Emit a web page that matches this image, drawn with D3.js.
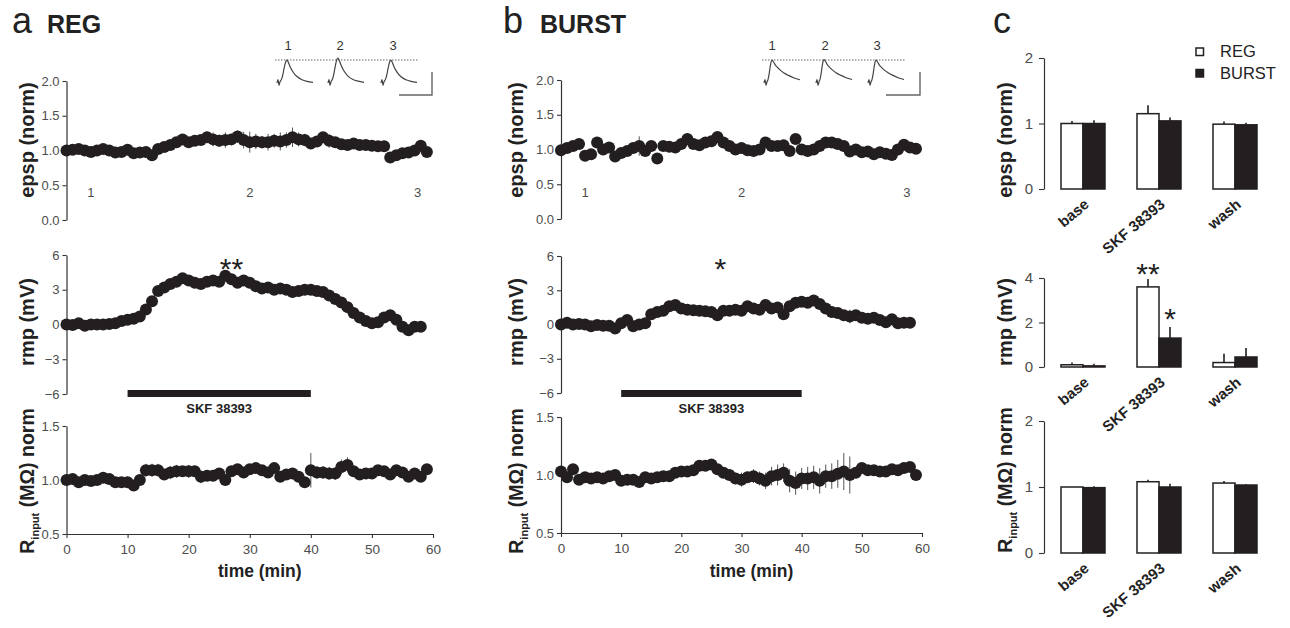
<!DOCTYPE html>
<html><head><meta charset="utf-8">
<script src="https://cdn.jsdelivr.net/npm/d3@7"></script>
<style>
body{margin:0;background:#fff;}
svg text{font-family:"Liberation Sans",Arial,Helvetica,sans-serif;}
</style></head><body>
<svg id="chart" width="1290" height="628"></svg>
<script>
// ---------------- DATA ----------------
const timeMin = [0,1,2,3,4,5,6,7,8,9,10,11,12,13,14,15,16,17,18,19,20,21,22,23,24,25,26,27,28,29,30,31,32,33,34,35,36,37,38,39,40,41,42,43,44,45,46,47,48,49,50,51,52,53,54,55,56,57,58,59];
const timeTicks = [0,10,20,30,40,50,60];

const epspReg = [1.00,1.01,1.02,1.00,0.98,1.00,1.02,1.00,0.97,0.98,1.01,0.96,0.97,0.98,0.93,1.02,1.05,1.08,1.12,1.16,1.12,1.14,1.15,1.19,1.16,1.14,1.15,1.16,1.20,1.15,1.12,1.13,1.12,1.12,1.14,1.13,1.15,1.19,1.16,1.15,1.10,1.13,1.19,1.14,1.12,1.09,1.08,1.10,1.08,1.08,1.07,1.06,1.06,0.90,0.93,0.96,0.97,1.00,1.07,0.98];
const epspRegErr = [0.01,0.02,0.02,0.02,0.02,0.02,0.02,0.02,0.02,0.02,0.02,0.02,0.02,0.02,0.02,0.03,0.03,0.03,0.03,0.04,0.04,0.05,0.07,0.08,0.10,0.09,0.11,0.08,0.09,0.12,0.15,0.11,0.09,0.12,0.10,0.13,0.11,0.14,0.10,0.09,0.08,0.07,0.08,0.10,0.05,0.04,0.04,0.03,0.03,0.03,0.03,0.03,0.03,0.03,0.03,0.03,0.03,0.03,0.03,0.03];
const rmpReg = [0,-0.05,0.1,-0.1,0,0,0,0.05,0.1,0.3,0.4,0.5,0.7,1.3,2.0,2.9,3.2,3.5,3.7,4.0,3.8,3.6,3.5,3.7,3.8,3.7,4.2,3.9,3.6,3.8,3.6,3.3,3.1,3.2,3.0,3.1,3.0,2.8,2.9,3.0,3.0,2.9,2.8,2.5,2.2,1.9,1.5,1.0,0.6,0.3,0.1,0.2,0.6,0.8,0.4,-0.2,-0.5,-0.2,-0.2];
const rmpRegErr = [0.05,0.1,0.1,0.1,0.1,0.1,0.1,0.1,0.15,0.15,0.15,0.2,0.2,0.25,0.25,0.3,0.3,0.3,0.3,0.35,0.35,0.3,0.4,0.35,0.45,0.4,0.35,0.4,0.35,0.4,0.35,0.4,0.35,0.3,0.35,0.4,0.35,0.45,0.5,0.4,0.45,0.4,0.35,0.35,0.3,0.3,0.25,0.25,0.25,0.2,0.2,0.2,0.25,0.25,0.2,0.2,0.25,0.2,0.2];
const rinReg = [1.00,1.01,0.98,1.00,0.99,1.00,1.02,1.01,0.98,0.98,0.98,0.95,1.00,1.09,1.09,1.09,1.05,1.07,1.08,1.08,1.08,1.08,1.03,1.04,1.04,1.06,1.00,1.08,1.10,1.07,1.10,1.11,1.09,1.07,1.11,1.03,1.05,1.06,1.03,0.98,1.09,1.07,1.07,1.06,1.06,1.12,1.14,1.08,1.05,1.06,1.06,1.09,1.08,1.05,1.09,1.07,1.03,1.06,1.03,1.10];
const rinRegErr = [0.005,0.01,0.01,0.01,0.01,0.01,0.01,0.01,0.01,0.01,0.01,0.01,0.02,0.06,0.06,0.06,0.05,0.06,0.06,0.05,0.06,0.05,0.06,0.05,0.05,0.04,0.03,0.04,0.04,0.04,0.04,0.04,0.04,0.04,0.04,0.05,0.04,0.05,0.04,0.04,0.16,0.06,0.06,0.06,0.06,0.07,0.07,0.04,0.03,0.03,0.03,0.03,0.03,0.03,0.03,0.03,0.03,0.03,0.03,0.02];

const epspBurst = [0.99,1.02,1.05,1.08,0.91,0.93,1.10,1.00,1.03,0.90,0.95,0.98,1.02,1.05,0.98,1.05,0.87,1.05,1.04,1.03,1.08,1.15,1.08,1.06,1.10,1.12,1.18,1.10,1.05,1.00,1.02,0.99,0.98,1.00,1.10,1.05,1.05,1.06,0.98,1.15,1.00,0.98,1.00,1.05,1.10,1.10,1.08,1.05,0.97,1.00,0.96,0.97,0.93,0.96,0.94,0.92,1.00,1.07,1.03,1.01];
const epspBurstErr = [0.01,0.02,0.02,0.02,0.02,0.02,0.02,0.02,0.02,0.02,0.02,0.02,0.02,0.14,0.02,0.02,0.02,0.02,0.02,0.02,0.02,0.02,0.02,0.03,0.06,0.03,0.03,0.03,0.02,0.02,0.02,0.02,0.02,0.02,0.02,0.02,0.03,0.06,0.02,0.02,0.02,0.02,0.02,0.02,0.02,0.02,0.02,0.02,0.02,0.02,0.02,0.02,0.02,0.02,0.02,0.02,0.02,0.02,0.02,0.02];
const rmpBurst = [0.0,0.15,0.0,0.05,0.0,-0.15,-0.05,-0.1,-0.1,-0.35,0.1,0.4,-0.15,0.0,0.1,0.9,1.1,1.2,1.6,1.7,1.4,1.3,1.25,1.2,1.15,1.1,0.8,1.2,1.2,1.3,1.2,1.6,1.4,1.3,1.7,1.4,1.5,0.9,1.6,1.9,2.0,1.9,2.1,1.8,1.4,1.1,1.0,0.8,0.7,0.8,0.6,0.5,0.6,0.4,0.2,0.45,0.1,0.15,0.15];
const rmpBurstErr = [0.05,0.1,0.1,0.1,0.1,0.1,0.1,0.1,0.15,0.15,0.15,0.2,0.2,0.2,0.2,0.25,0.25,0.3,0.3,0.3,0.3,0.3,0.3,0.3,0.3,0.3,0.3,0.3,0.3,0.3,0.3,0.3,0.3,0.3,0.3,0.3,0.3,0.3,0.35,0.4,0.4,0.4,0.35,0.35,0.3,0.3,0.35,0.4,0.6,0.3,0.25,0.25,0.25,0.2,0.2,0.2,0.2,0.2,0.2];
const rinBurst = [1.03,0.98,1.05,0.96,0.98,0.97,0.98,0.97,0.99,1.00,0.95,0.96,0.96,0.94,0.98,0.97,0.98,0.99,0.99,1.02,1.03,1.03,1.04,1.08,1.08,1.09,1.05,1.02,1.00,0.97,0.96,0.98,0.99,0.97,0.95,0.99,1.00,1.02,0.95,0.93,0.97,0.97,0.98,0.95,0.99,0.99,1.01,1.03,1.00,1.02,1.06,1.04,1.04,1.03,1.03,1.05,1.04,1.06,1.07,1.00];
const rinBurstErr = [0.005,0.01,0.01,0.01,0.01,0.01,0.01,0.01,0.01,0.01,0.01,0.01,0.01,0.01,0.01,0.01,0.01,0.01,0.01,0.02,0.02,0.02,0.02,0.02,0.02,0.02,0.02,0.03,0.04,0.05,0.06,0.05,0.06,0.06,0.07,0.08,0.09,0.08,0.10,0.10,0.09,0.10,0.10,0.11,0.10,0.11,0.12,0.16,0.16,0.04,0.03,0.03,0.02,0.02,0.02,0.02,0.02,0.02,0.02,0.01];

// drug application window (min)
const drugWindow = [10, 40];
const drugLabel = "SKF 38393";
// sample points for inset traces (numbered at these times)
const sampleTimes = [4, 30, 57.5];
const sampleLabels = ["1","2","3"];

// inset EPSP traces (arbitrary time units, normalised amplitude)
const insetTraceX = [0,1,2,3,4,5,6,7,8,9,10,11,13,16,20,25,30,36];
const regTrace1 = [0,0.15,-0.1,0.05,0.12,0.22,0.40,0.62,0.82,0.95,1.00,0.93,0.72,0.48,0.28,0.14,0.07,0.03];
const regTrace2 = [0,0.15,-0.1,0.05,0.13,0.24,0.43,0.67,0.89,1.03,1.08,1.00,0.78,0.52,0.30,0.15,0.08,0.03];
const regTrace3 = [0,0.15,-0.1,0.05,0.12,0.22,0.40,0.62,0.82,0.95,0.99,0.92,0.71,0.47,0.27,0.14,0.07,0.03];
const burstTrace1 = [0,0.15,-0.1,0.05,0.15,0.35,0.65,0.90,1.00,0.95,0.88,0.80,0.70,0.57,0.44,0.32,0.22,0.14];
const burstTrace2 = [0,0.15,-0.1,0.05,0.16,0.37,0.68,0.93,1.02,0.97,0.90,0.82,0.71,0.58,0.45,0.33,0.23,0.15];
const burstTrace3 = [0,0.15,-0.1,0.05,0.15,0.35,0.65,0.90,1.00,0.95,0.88,0.80,0.70,0.57,0.45,0.33,0.23,0.15];

// panel c summary bars
const barCategories = ["base","SKF 38393","wash"];
const barSeries = ["REG","BURST"];
const barEpspReg = [1.00,1.15,0.99];
const barEpspRegErr = [0.04,0.13,0.04];
const barEpspBurst = [1.00,1.04,0.98];
const barEpspBurstErr = [0.05,0.05,0.03];
const barRmpReg = [0.10,3.60,0.20];
const barRmpRegErr = [0.10,0.35,0.40];
const barRmpBurst = [0.05,1.30,0.45];
const barRmpBurstErr = [0.10,0.50,0.40];
const barRinReg = [1.00,1.08,1.06];
const barRinRegErr = [0.00,0.03,0.03];
const barRinBurst = [0.99,1.00,1.03];
const barRinBurstErr = [0.02,0.05,0.01];

// ---------------- DRAWING ----------------
const INK = "#231f20";
const GREY = "#4d4d4d";
const svg = d3.select("#chart");

function styleAxis(g, fs){
  g.select(".domain").attr("stroke", "#333").attr("stroke-width", 1.2);
  g.selectAll(".tick line").attr("stroke", "#333").attr("stroke-width", 1.1);
  g.selectAll(".tick text").attr("fill", GREY).attr("font-size", fs)
    .attr("font-family", "Liberation Sans, Arial, sans-serif");
}

function yTitle(x, y, txt){
  svg.append("text").attr("transform", `translate(${x},${y}) rotate(-90)`)
    .attr("text-anchor","middle").attr("font-weight","bold").attr("font-size",20)
    .attr("fill","#222").text(txt);
}
function rinTitle(x, y){
  const t = svg.append("text").attr("transform", `translate(${x},${y}) rotate(-90)`)
    .attr("text-anchor","middle").attr("font-weight","bold").attr("font-size",19.5).attr("fill","#222");
  t.append("tspan").text("R");
  t.append("tspan").attr("font-size",11).attr("dy",5).text("input");
  t.append("tspan").attr("dy",-5).text(" (M\u03A9) norm");
}

function drawSeries(x, y, vals, errs){
  const g = svg.append("g");
  g.selectAll("line.err").data(vals).join("line")
    .attr("x1",(d,i)=>x(timeMin[i])).attr("x2",(d,i)=>x(timeMin[i]))
    .attr("y1",(d,i)=>y(d-errs[i])).attr("y2",(d,i)=>y(d+errs[i]))
    .attr("stroke","#555").attr("stroke-width",1);
  g.selectAll("circle").data(vals).join("circle")
    .attr("cx",(d,i)=>x(timeMin[i])).attr("cy",d=>y(d)).attr("r",6).attr("fill",INK);
}

function timePanel(cfg){
  const x = d3.scaleLinear().domain([0,60]).range(cfg.xr);
  const yE = d3.scaleLinear().domain([0,2]).range(cfg.epspR);
  const yM = d3.scaleLinear().domain([-6,6]).range(cfg.rmpR);
  const yR = d3.scaleLinear().domain([0.5,1.5]).range(cfg.rinR);
  const ax0 = cfg.xr[0];

  // titles
  svg.append("text").attr("x",cfg.letterX).attr("y",33).attr("font-size",36).attr("fill","#222").text(cfg.letter);
  svg.append("text").attr("x",cfg.nameX).attr("y",33).attr("font-size",25).attr("font-weight","bold").attr("fill","#222").text(cfg.name);

  // epsp
  const gE = svg.append("g").attr("transform",`translate(${ax0},0)`)
    .call(d3.axisLeft(yE).tickValues([0,0.5,1,1.5,2]).tickFormat(d3.format(".1f")).tickSize(4).tickSizeOuter(0).tickPadding(3));
  styleAxis(gE, 13);
  yTitle(cfg.titleX, 140, "epsp (norm)");
  drawSeries(x, yE, cfg.epsp, cfg.epspErr);
  svg.append("g").selectAll("text").data(sampleLabels).join("text")
    .attr("x",(d,i)=>x(sampleTimes[i])).attr("y",197).attr("text-anchor","middle")
    .attr("font-size",13).attr("fill",GREY).text(d=>d);

  // inset traces
  const insY = d3.scaleLinear().domain([0,1]).range([83,60]);
  svg.append("line").attr("x1",cfg.dotX[0]).attr("x2",cfg.dotX[1]).attr("y1",insY(1)).attr("y2",insY(1))
    .attr("stroke","#666").attr("stroke-width",1).attr("stroke-dasharray","1.5,1.5");
  cfg.traces.forEach((tr,k)=>{
    const ix = d3.scaleLinear().domain([0,36]).range([cfg.traceStarts[k], cfg.traceStarts[k]+36]);
    const line = d3.line().x((d,i)=>ix(insetTraceX[i])).y(d=>insY(d)).curve(d3.curveMonotoneX);
    svg.append("path").attr("d",line(tr)).attr("fill","none").attr("stroke","#444").attr("stroke-width",1.2);
    svg.append("text").attr("x",cfg.traceLabelX[k]).attr("y",50).attr("text-anchor","middle")
      .attr("font-size",13).attr("fill","#333").text(sampleLabels[k]);
  });
  // scale bar
  const sb = cfg.scaleBar;
  svg.append("path").attr("d",`M${sb[0]},95 L${sb[1]},95 L${sb[1]},72`).attr("fill","none")
    .attr("stroke","#666").attr("stroke-width",1.4);

  // rmp
  const gM = svg.append("g").attr("transform",`translate(${ax0},0)`)
    .call(d3.axisLeft(yM).tickValues([-6,-3,0,3,6]).tickFormat(d3.format("d")).tickSize(4).tickSizeOuter(0).tickPadding(3));
  styleAxis(gM, 13);
  yTitle(cfg.titleX, 322, "rmp (mV)");
  svg.append("rect").attr("x",x(drugWindow[0])).attr("width",x(drugWindow[1])-x(drugWindow[0]))
    .attr("y",390).attr("height",7).attr("fill",INK);
  svg.append("text").attr("x",x((drugWindow[0]+drugWindow[1])/2)).attr("y",413).attr("text-anchor","middle")
    .attr("font-size",13).attr("font-weight","bold").attr("fill","#222").text(drugLabel);
  drawSeries(x, yM, cfg.rmp, cfg.rmpErr);
  svg.append("text").attr("x",x(cfg.starT)).attr("y",279).attr("text-anchor","middle")
    .attr("font-size",30).attr("fill","#222").text(cfg.star);

  // rinput
  const gR = svg.append("g").attr("transform",`translate(${ax0},0)`)
    .call(d3.axisLeft(yR).tickValues([0.5,1,1.5]).tickFormat(d3.format(".1f")).tickSize(4).tickSizeOuter(0).tickPadding(3));
  styleAxis(gR, 13);
  const gX = svg.append("g").attr("transform",`translate(0,${cfg.rinR[0]})`)
    .call(d3.axisBottom(x).tickValues(timeTicks).tickFormat(d3.format("d")).tickSize(4).tickSizeOuter(0).tickPadding(6));
  styleAxis(gX, 13.5);
  rinTitle(cfg.titleX, 481);
  drawSeries(x, yR, cfg.rin, cfg.rinErr);
  svg.append("text").attr("x",(cfg.xr[0]+cfg.xr[1])/2+10).attr("y",577).attr("text-anchor","middle")
    .attr("font-size",17.5).attr("font-weight","bold").attr("fill","#222").text("time (min)");
}

timePanel({letter:"a", letterX:12, name:"REG", nameX:47, titleX:34,
  xr:[66.5,433], epspR:[220,81], rmpR:[394,255], rinR:[534,426],
  epsp:epspReg, epspErr:epspRegErr, rmp:rmpReg, rmpErr:rmpRegErr, rin:rinReg, rinErr:rinRegErr,
  traces:[regTrace1,regTrace2,regTrace3], traceStarts:[277,328,381], traceLabelX:[288,340,393],
  dotX:[275,418], scaleBar:[399,432], star:"**", starT:27});

timePanel({letter:"b", letterX:503, name:"BURST", nameX:540, titleX:523,
  xr:[561,922], epspR:[219,80], rmpR:[393,256], rinR:[533,417],
  epsp:epspBurst, epspErr:epspBurstErr, rmp:rmpBurst, rmpErr:rmpBurstErr, rin:rinBurst, rinErr:rinBurstErr,
  traces:[burstTrace1,burstTrace2,burstTrace3], traceStarts:[764,816,868], traceLabelX:[772,825,877],
  dotX:[762,905], scaleBar:[886,920], star:"*", starT:26.5});

// ---------------- panel c ----------------
svg.append("text").attr("x",993).attr("y",33).attr("font-size",36).attr("fill","#222").text("c");
const xC = d3.scalePoint().domain(barCategories).range([1083,1235]);
const xSub = d3.scaleBand().domain(barSeries).range([-22,22]);
const AXC = 1044;

function barPanel(cfg){
  const y = d3.scaleLinear().domain(cfg.domain).range(cfg.range);
  const g = svg.append("g").attr("transform",`translate(${AXC},0)`)
    .call(d3.axisLeft(y).tickValues(cfg.ticks).tickFormat(d3.format("d")).tickSize(5).tickSizeOuter(0).tickPadding(6));
  styleAxis(g, 15);
  const series = [
    {name:"REG", vals:cfg.reg, errs:cfg.regErr, fill:"#fff"},
    {name:"BURST", vals:cfg.burst, errs:cfg.burstErr, fill:INK}
  ];
  series.forEach(s=>{
    const gs = svg.append("g");
    gs.selectAll("line").data(s.vals).join("line")
      .attr("x1",(d,i)=>xC(barCategories[i])+xSub(s.name)+xSub.bandwidth()/2)
      .attr("x2",(d,i)=>xC(barCategories[i])+xSub(s.name)+xSub.bandwidth()/2)
      .attr("y1",d=>y(d)).attr("y2",(d,i)=>y(d+s.errs[i]))
      .attr("stroke",INK).attr("stroke-width",1.6);
    gs.selectAll("rect").data(s.vals).join("rect")
      .attr("x",(d,i)=>xC(barCategories[i])+xSub(s.name))
      .attr("width",xSub.bandwidth())
      .attr("y",d=>y(d)).attr("height",d=>y(0)-y(d))
      .attr("fill",s.fill).attr("stroke",INK).attr("stroke-width",1.5);
  });
  svg.append("g").selectAll("text").data(barCategories).join("text")
    .attr("transform",d=>`translate(${xC(d)+7},${y(0)+17}) rotate(-40)`)
    .attr("text-anchor","end").attr("font-size",15).attr("font-weight","bold").attr("fill","#222")
    .text(d=>d);
}

barPanel({domain:[0,2], range:[189,58], ticks:[0,1,2],
  reg:barEpspReg, regErr:barEpspRegErr, burst:barEpspBurst, burstErr:barEpspBurstErr});
yTitle(1012, 140, "epsp (norm)");
barPanel({domain:[0,4], range:[367,278], ticks:[0,2,4],
  reg:barRmpReg, regErr:barRmpRegErr, burst:barRmpBurst, burstErr:barRmpBurstErr});
yTitle(1012, 322, "rmp (mV)");
barPanel({domain:[0,2], range:[553,421], ticks:[0,1,2],
  reg:barRinReg, regErr:barRinRegErr, burst:barRinBurst, burstErr:barRinBurstErr});
rinTitle(1012, 480);

// significance stars in panel c
svg.append("text").attr("x",xC("SKF 38393")+xSub("REG")+xSub.bandwidth()/2).attr("y",284)
  .attr("text-anchor","middle").attr("font-size",30).attr("fill","#222").text("**");
svg.append("text").attr("x",xC("SKF 38393")+xSub("BURST")+xSub.bandwidth()/2).attr("y",329)
  .attr("text-anchor","middle").attr("font-size",30).attr("fill","#222").text("*");

// legend
const legend = svg.append("g");
barSeries.forEach((s,i)=>{
  legend.append("rect").attr("x",1196).attr("y",48+i*21.5).attr("width",7.5).attr("height",7.5)
    .attr("fill", i===0 ? "#fff" : INK).attr("stroke",INK).attr("stroke-width",1.5);
  legend.append("text").attr("x",1220).attr("y",57+i*22).attr("font-size",16.5).attr("fill","#222").text(s);
});
</script>
</body></html>
